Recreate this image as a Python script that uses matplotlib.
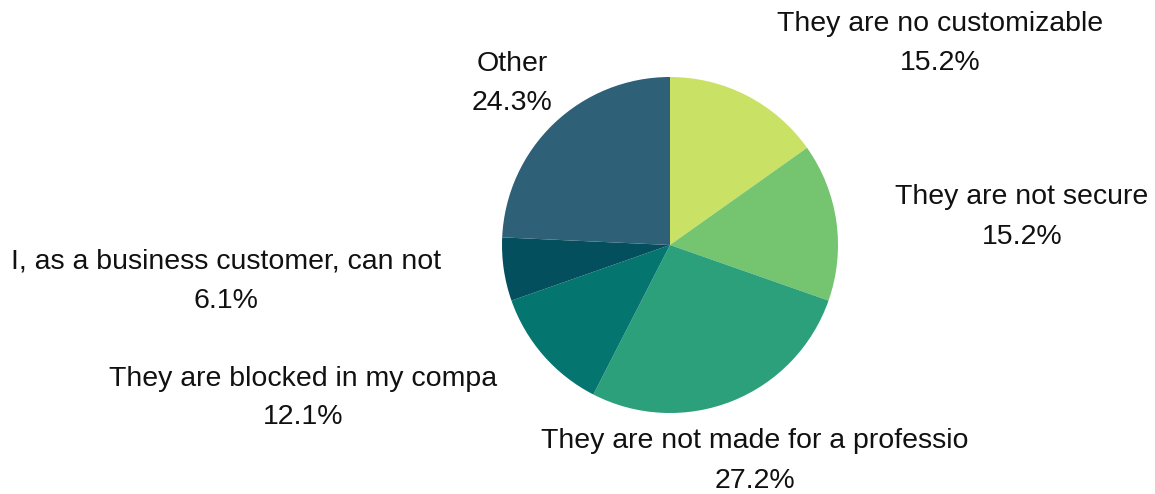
import matplotlib.pyplot as plt

labels = ["They are no customizable", "They are not secure",
          "They are not made for a professio", "They are blocked in my compa",
          "I, as a business customer, can not", "Other"]
shares = [15.2, 15.2, 27.2, 12.1, 6.1, 24.3]
colors = ["#c9e165", "#74c470", "#2ba07b", "#04766f", "#034f5d", "#2e6078"]

# label anchor points, pixels from top-left
label_pos = [(940, 44), (1022, 217), (755, 461), (303, 398), (226, 281), (512, 84)]

W, H = 1155, 494
plt.rcParams['font.family'] = ['Liberation Sans', 'DejaVu Sans']

fig = plt.figure(figsize=(W / 100, H / 100), dpi=100)
ax = fig.add_axes([0, 0, 1, 1])

ax.pie(shares, colors=colors, startangle=90, counterclock=False,
       center=(670, H - 245), radius=168, frame=True,
       wedgeprops=dict(linewidth=0))
ax.set_xlim(0, W)
ax.set_ylim(0, H)
ax.set_aspect('equal')
ax.axis('off')

for lab, val, (px, py) in zip(labels, shares, label_pos):
    ax.text(px, H - py, f"{lab}\n{val:.1f}%", ha='center', va='center',
            fontsize=20.5, color='#111111', linespacing=1.65)

fig.savefig('out.png', dpi=100)
